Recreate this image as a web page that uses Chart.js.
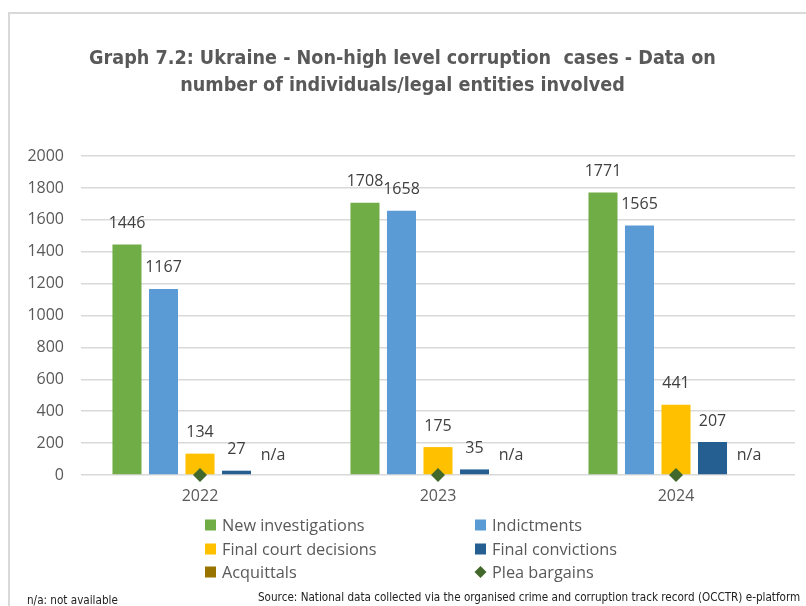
<!DOCTYPE html>
<html><head><meta charset="utf-8">
<script src="https://cdn.jsdelivr.net/npm/chart.js@4.4.1/dist/chart.umd.min.js"></script>
<style>html,body{margin:0;padding:0;background:#fff;overflow:hidden}canvas{display:block}</style>
</head><body>
<canvas id="c" width="806" height="606"></canvas>
<script>
const categories = ['2022', '2023', '2024'];
const newInvestigations = [1446, 1708, 1771];
const indictments = [1167, 1658, 1565];
const finalCourtDecisions = [134, 175, 441];
const finalConvictions = [27, 35, 207];
const acquittals = [null, null, null]; // n/a
const pleaBargains = [0, 0, 0];
const yMin = 0, yMax = 2000, yStep = 200;
const titleLines = ['Graph 7.2: Ukraine - Non-high level corruption  cases - Data on', 'number of individuals/legal entities involved'];
const naNote = 'n/a: not available';
const sourceNote = 'Source: National data collected via the organised crime and corruption track record (OCCTR) e-platform';

const GRAY = '#595959';
const LABEL = '#404040';
const BASE_FONT = "'Open Sans', 'Liberation Sans', sans-serif";

const valueLabels = {
  id: 'valueLabels',
  afterDatasetsDraw(chart) {
    const ctx = chart.ctx;
    const y = chart.scales.y;
    ctx.save();
    ctx.font = '16px ' + BASE_FONT;
    ctx.fillStyle = LABEL;
    ctx.textAlign = 'center';
    ctx.textBaseline = 'middle';
    chart.data.datasets.forEach((ds, di) => {
      if (ds.type === 'line') return;
      const meta = chart.getDatasetMeta(di);
      meta.data.forEach((el, i) => {
        const v = ds.data[i];
        let x = el.x;
        if (v === null || v === undefined) {
          if (!isFinite(x)) {
            const m3 = chart.getDatasetMeta(di - 1).data[i];
            const m2 = chart.getDatasetMeta(di - 2).data[i];
            x = m3.x + (m3.x - m2.x);
          }
          ctx.fillText('n/a', x, y.getPixelForValue(0) - 20);
        } else {
          ctx.fillText(String(v), x, y.getPixelForValue(v) - 21);
        }
      });
    });
    ctx.restore();
  }
};

const frameLegendFooter = {
  id: 'frameLegendFooter',
  beforeDraw(chart) {
    const ctx = chart.ctx;
    ctx.save();
    ctx.fillStyle = '#fff';
    ctx.fillRect(0, 0, chart.width, chart.height);
    ctx.strokeStyle = '#d9d9d9';
    ctx.lineWidth = 2;
    ctx.beginPath();
    ctx.moveTo(9, chart.height);
    ctx.lineTo(9, 13);
    ctx.lineTo(chart.width, 13);
    ctx.stroke();
    ctx.restore();
  },
  afterDraw(chart) {
    const ctx = chart.ctx;
    ctx.save();
    const cols = [205, 475];
    const rows = [525, 549, 572];
    ctx.font = '16.3px ' + BASE_FONT;
    ctx.textBaseline = 'middle';
    ctx.textAlign = 'left';
    chart.data.datasets.forEach((ds, i) => {
      const cx = cols[i % 2], cy = rows[Math.floor(i / 2)];
      ctx.fillStyle = ds.backgroundColor;
      if (ds.type === 'line') {
        ctx.beginPath();
        ctx.moveTo(cx + 5.5, cy - 6);
        ctx.lineTo(cx + 11.5, cy);
        ctx.lineTo(cx + 5.5, cy + 6);
        ctx.lineTo(cx - 0.5, cy);
        ctx.closePath();
        ctx.fill();
      } else {
        ctx.fillRect(cx, cy - 5.5, 11, 11);
      }
      ctx.fillStyle = GRAY;
      ctx.fillText(ds.label, cx + 17, cy + 1);
    });
    ctx.font = "11.6px 'Liberation Sans Narrow', 'DejaVu Sans Condensed', sans-serif";
    ctx.fillStyle = '#222';
    ctx.textBaseline = 'alphabetic';
    ctx.fillText(naNote, 27, 604);
    ctx.fillText(sourceNote, 258, 601);
    ctx.restore();
  }
};

const barDs = (label, data, color) => ({
  type: 'bar', label, data, backgroundColor: color, borderWidth: 0, order: 1,
  categoryPercentage: 0.767, barPercentage: 0.795
});

new Chart(document.getElementById('c'), {
  data: {
    labels: categories,
    datasets: [
      barDs('New investigations', newInvestigations, '#70AD47'),
      barDs('Indictments', indictments, '#5B9BD5'),
      barDs('Final court decisions', finalCourtDecisions, '#FFC000'),
      barDs('Final convictions', finalConvictions, '#255E91'),
      barDs('Acquittals', acquittals, '#997300'),
      {
        type: 'line', label: 'Plea bargains', data: pleaBargains, showLine: false,
        pointStyle: 'rectRot', pointRadius: 7, pointHoverRadius: 7,
        backgroundColor: '#43682B', borderColor: '#43682B', pointBorderWidth: 0,
        order: 0, clip: false
      }
    ]
  },
  options: {
    responsive: false,
    animation: false,
    events: [],
    layout: { padding: { left: 10, right: 11, top: 45, bottom: 100 } },
    plugins: {
      legend: { display: false },
      tooltip: { enabled: false },
      title: {
        display: true,
        text: titleLines,
        color: GRAY,
        font: { family: "'Liberation Sans Narrow', 'DejaVu Sans Condensed', sans-serif", size: 19.6, weight: 'bold', lineHeight: 1.38 },
        padding: { top: 0, bottom: 57 }
      }
    },
    scales: {
      x: {
        grid: { display: false, drawTicks: false },
        border: { display: false },
        ticks: { color: GRAY, font: { family: BASE_FONT, size: 16 }, padding: 12 },
        afterFit(s) { s.height = 31; }
      },
      y: {
        min: yMin, max: yMax,
        grid: { color: '#d9d9d9', lineWidth: 1.5, drawTicks: false },
        border: { display: false },
        ticks: { stepSize: yStep, color: GRAY, font: { family: BASE_FONT, size: 16 }, padding: 17,
          callback: (v) => String(v) },
        afterFit(s) { s.width = 71; }
      }
    }
  },
  plugins: [valueLabels, frameLegendFooter]
});
</script>
</body></html>
